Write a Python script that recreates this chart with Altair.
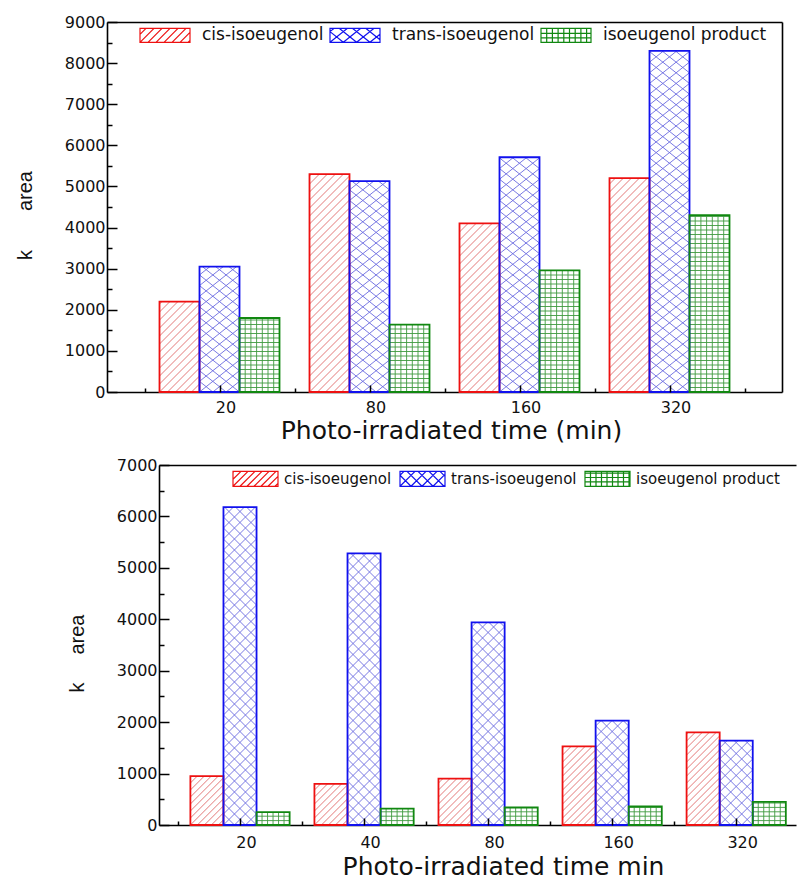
import json
import math
import altair as alt
import pandas as pd

# ---------------- data ----------------
SERIES = ["cis-isoeugenol", "trans-isoeugenol", "isoeugenol product"]

TOP_TIMES = ["20", "80", "160", "320"]
TOP_CIS = [2200, 5300, 4100, 5200]
TOP_TRANS = [3050, 5130, 5710, 8300]
TOP_PRODUCT = [1800, 1640, 2960, 4300]

BOT_TIMES = ["20", "40", "80", "160", "320"]
BOT_CIS = [950, 800, 900, 1530, 1800]
BOT_TRANS = [6180, 5280, 3940, 2030, 1640]
BOT_PRODUCT = [250, 320, 340, 360, 450]

TOP_XTITLE = "Photo-irradiated time (min)"
BOT_XTITLE = "Photo-irradiated time min"
TOP_YTITLE = "k" + "\u00a0" * 7 + "area"
BOT_YTITLE = "k" + "\u00a0" * 5 + "area"

# ---------------- styles ----------------
EDGE = ["#ee1111", "#1111ee", "#118811"]
HATCH = ["#e06a6a", "#6a6ae0", "#3f9a3f"]
TOP_FAMS = [[("d", 1.0, 8.0)], [("d", 0.8, 13.3), ("d", -0.8, 13.3)], [("v", 5.7), ("h", 4.5)]]
BOT_FAMS = [[("d", 1.0, 7.0)], [("d", 1.0, 11.0), ("d", -1.0, 11.0)], [("v", 5.5), ("h", 4.4)]]
FONT = "DejaVu Sans"
BW = 0.8 / 3  # bar width in group units


def hatch_segments(W, H, fams):
    segs = []
    for fam in fams:
        kind = fam[0]
        if kind == "v":
            dx = fam[1]
            x = dx
            while x < W - 0.6:
                segs.append((x, 0.0, x, H))
                x += dx
        elif kind == "h":
            dy = fam[1]
            y = dy
            while y < H - 0.6:
                segs.append((0.0, y, W, y))
                y += dy
        else:
            m, s = fam[1], fam[2]
            dc = abs(m) * s
            if m > 0:
                lo, hi = -m * W, H
            else:
                lo, hi = 0.0, H - m * W
            k = math.floor(lo / dc) + 1
            while k * dc < hi:
                c = k * dc
                if m > 0:
                    xa = max(0.0, -c / m)
                    xb = min(W, (H - c) / m)
                else:
                    xa = max(0.0, (H - c) / m)
                    xb = min(W, -c / m)
                if xb - xa > 0.4:
                    segs.append((xa, m * xa + c, xb, m * xb + c))
                k += 1
    return segs


def swatch_path(Wp, Hp, fams):
    s = Wp / 2.0
    h = Hp / Wp
    parts = [f"M-1,{-h:.3f}H1V{h:.3f}H-1Z"]
    for xa, ya, xb, yb in hatch_segments(Wp, Hp, fams):
        u1 = (xa - Wp / 2) / s
        v1 = -(ya - Hp / 2) / s
        u2 = (xb - Wp / 2) / s
        v2 = -(yb - Hp / 2) / s
        parts.append(f"M{u1:.3f},{v1:.3f}L{u2:.3f},{v2:.3f}")
    return "".join(parts)


def bars_table(times, cols):
    rows = []
    for si, (name, vals) in enumerate(zip(SERIES, cols)):
        for gi, v in enumerate(vals):
            x0 = gi - 0.4 + si * BW
            rows.append(dict(time=times[gi], series=name, value=v, bx0=x0, bx1=x0 + BW))
    return pd.DataFrame(rows)


def hatch_table(bars, sx, sy, fams):
    rows = []
    for _, r in bars.iterrows():
        si = SERIES.index(r["series"])
        W = BW * sx
        H = r["value"] * sy
        for xa, ya, xb, yb in hatch_segments(W, H, fams[si]):
            rows.append(dict(hk=si, hx0=r["bx0"] + xa / sx, hy0=ya / sy,
                             hx1=r["bx0"] + xb / sx, hy1=yb / sy))
    return pd.DataFrame(rows)


def panel(times, cols, W, H, xdom, left_px, ymax, fams, sw, leg_xy, leg_font, leg_off, leg_pad,
          xtitle, title_x, title_y, ytitle, ytitle_y, xlabpad, right_border):
    n = len(times)
    plot_w = W - left_px
    sx = plot_w / (xdom[1] - xdom[0])
    sy = H / ymax
    bars = bars_table(times, cols)
    hatch = hatch_table(bars, sx, sy, fams)

    xs_kw = dict(domain=xdom, nice=False, zero=False)
    if left_px:
        xs_kw["range"] = [left_px, W]
    xs = alt.Scale(**xs_kw)
    ys = alt.Scale(domain=[0, ymax], nice=False, zero=True)

    main_x = alt.Axis(orient="bottom", values=list(range(n)),
                      labelExpr=f"{json.dumps(times)}[round(datum.value)]",
                      ticks=False, labelPadding=xlabpad, labelOffset=6, labelFlush=False,
                      labelFont=FONT, labelFontSize=16, labelColor="#111",
                      domainColor="black", domainWidth=1.6, grid=False,
                      title=xtitle, titleFont=FONT, titleFontSize=25, titleFontWeight="normal",
                      titleColor="#111", titleX=title_x, titleY=title_y,
                      titleBaseline="alphabetic", titleAlign="center")
    main_y = alt.Axis(orient="left", offset=-left_px, values=list(range(0, ymax + 1, 1000)),
                      format="d", ticks=False, labelPadding=2, labelFlush=False,
                      labelFont=FONT, labelFontSize=16, labelColor="#111",
                      domainColor="black", domainWidth=1.6, grid=False,
                      title=ytitle, titleFont="Liberation Sans", titleFontSize=20,
                      titleFontWeight="normal", titleColor="#111", titleX=-76, titleY=ytitle_y,
                      titleBaseline="alphabetic", titleAlign="center")

    def xticks(vals, size):
        return alt.Axis(orient="top", offset=-H, values=vals, ticks=True, tickSize=size,
                        tickWidth=1.5, tickColor="black", labels=False, domain=False,
                        grid=False, title=None, zindex=2)

    def yticks(vals, size):
        return alt.Axis(orient="right", offset=-plot_w, values=vals, ticks=True, tickSize=size,
                        tickWidth=1.5, tickColor="black", labels=False, domain=False,
                        grid=False, title=None, zindex=2)

    x_major = xticks(list(range(n)), 7)
    x_minor = xticks([i - 0.5 for i in range(n + 1)], 4)
    y_major = yticks(list(range(0, ymax + 1, 1000)), 10)
    y_minor = yticks(list(range(500, ymax, 1000)), 5)
    top_border = alt.Axis(orient="top", domain=True, domainColor="black", domainWidth=1.6,
                          ticks=False, labels=False, grid=False, title=None, zindex=2)
    right_axis = alt.Axis(orient="right", domain=True, domainColor="black", domainWidth=1.6,
                          ticks=False, labels=False, grid=False, title=None, zindex=2)

    paths = [swatch_path(sw[0], sw[1], f) for f in fams]
    leg = alt.Legend(orient="none", legendX=leg_xy[0], legendY=leg_xy[1], direction="horizontal",
                     title=None, symbolSize=sw[0] * sw[0], symbolStrokeWidth=1.2,
                     labelFont=FONT, labelFontSize=leg_font, labelColor="#111",
                     labelOffset=leg_off, columnPadding=leg_pad, padding=0, labelLimit=400)
    stroke_scale = alt.Scale(domain=SERIES, range=EDGE)

    fill_l = alt.Chart(bars).mark_rect(fill="white").encode(
        x=alt.X("bx0:Q", scale=xs, axis=main_x),
        x2="bx1:Q",
        y=alt.Y("value:Q", scale=ys, axis=main_y),
        y2=alt.datum(0),
    )
    hatch_l = alt.Chart(hatch).mark_rule(strokeWidth=0.9).encode(
        x=alt.X("hx0:Q", scale=xs, axis=x_major),
        x2="hx1:Q",
        y=alt.Y("hy0:Q", scale=ys, axis=y_major),
        y2="hy1:Q",
        color=alt.Color("hk:O", scale=alt.Scale(domain=[0, 1, 2], range=HATCH), legend=None),
    )
    legend_l = alt.Chart(bars).transform_filter("false").mark_point(filled=False, opacity=1).encode(
        x=alt.X("bx0:Q", scale=xs, axis=top_border),
        y=alt.Y("value:Q", scale=ys, axis=right_axis if right_border else None),
        stroke=alt.Stroke("series:N", scale=stroke_scale, legend=leg),
        shape=alt.Shape("series:N", scale=alt.Scale(domain=SERIES, range=paths), legend=leg),
    )
    outline_l = alt.Chart(bars).mark_rect(filled=False, strokeWidth=1.8).encode(
        x=alt.X("bx0:Q", scale=xs, axis=x_minor),
        x2="bx1:Q",
        y=alt.Y("value:Q", scale=ys, axis=y_minor),
        y2=alt.datum(0),
        stroke=alt.Stroke("series:N", scale=stroke_scale, legend=leg),
    )
    return alt.layer(fill_l, hatch_l, legend_l, outline_l).resolve_axis(
        x="independent", y="independent").properties(width=W, height=H)


top = panel(TOP_TIMES, [TOP_CIS, TOP_TRANS, TOP_PRODUCT], W=675, H=370, xdom=[-0.75, 3.75],
            left_px=0, ymax=9000, fams=TOP_FAMS, sw=(50, 14), leg_xy=(32, -13), leg_font=17,
            leg_off=11, leg_pad=3, xtitle=TOP_XTITLE, title_x=344, title_y=46,
            ytitle=TOP_YTITLE, ytitle_y=193, xlabpad=7, right_border=True)

bot = panel(BOT_TIMES, [BOT_CIS, BOT_TRANS, BOT_PRODUCT], W=689, H=360, xdom=[-0.653, 4.482],
            left_px=52, ymax=7000, fams=BOT_FAMS, sw=(45, 15), leg_xy=(125, -10), leg_font=15,
            leg_off=5, leg_pad=5, xtitle=BOT_XTITLE, title_x=396, title_y=49,
            ytitle=BOT_YTITLE, ytitle_y=188, xlabpad=9, right_border=False)

chart = alt.vconcat(top, bot, spacing=10).resolve_scale(
    stroke="independent", shape="independent", color="independent"
).resolve_legend(
    stroke="independent", shape="independent", color="independent"
).properties(
    padding={"left": 6, "top": 0, "right": 0, "bottom": 0}, background="white"
).configure_view(stroke="transparent")

chart.save("out.html", embed_options={"renderer": "svg", "actions": False})
